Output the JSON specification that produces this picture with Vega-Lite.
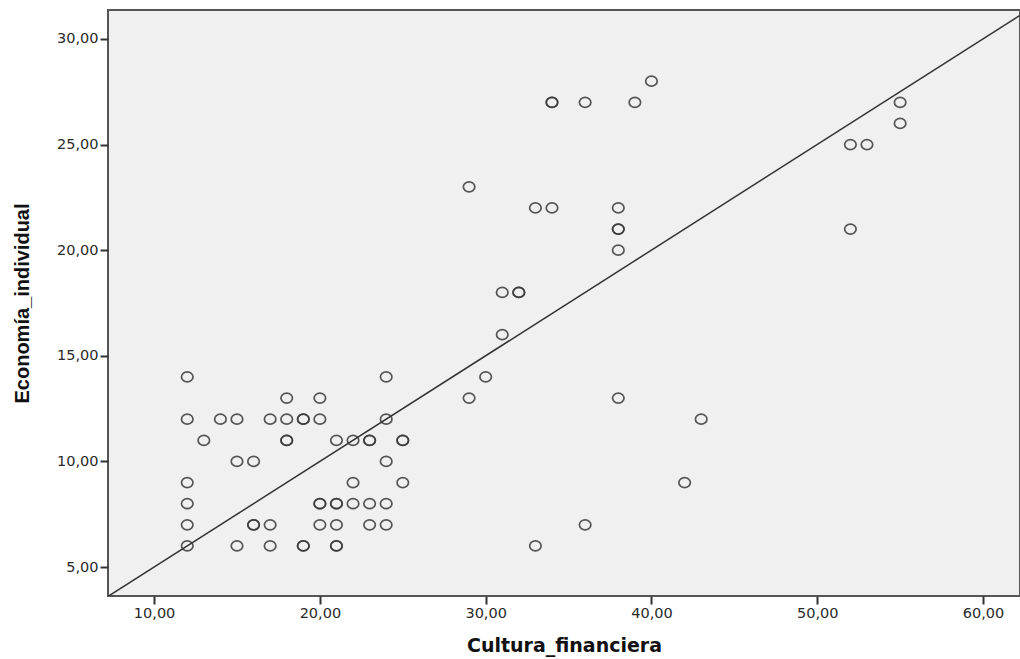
{
  "$schema": "https://vega.github.io/schema/vega-lite/v6.json",
  "width": 912,
  "height": 586,
  "autosize": {"type": "none"},
  "padding": {"left": 108, "top": 10, "right": 0, "bottom": 63},
  "background": "white",
  "config": {
    "view": {"fill": "#f0f0f0", "stroke": "#555555", "strokeWidth": 2},
    "axis": {"grid": false, "domain": false, "labelFont": "DejaVu Sans", "labelFontSize": 14.5, "labelColor": "#2a2a2a", "tickColor": "#333333", "tickWidth": 2, "tickSize": 8, "titleFontWeight": "bold", "titleColor": "#111111"}
  },
  "datasets": {
    "pts": [
      {"x": 12, "y": 14}, {"x": 12, "y": 12}, {"x": 12, "y": 9}, {"x": 12, "y": 8}, {"x": 12, "y": 7}, {"x": 12, "y": 6},
      {"x": 13, "y": 11}, {"x": 14, "y": 12},
      {"x": 15, "y": 12}, {"x": 15, "y": 10}, {"x": 15, "y": 6},
      {"x": 16, "y": 10}, {"x": 16, "y": 7}, {"x": 16, "y": 7},
      {"x": 17, "y": 12}, {"x": 17, "y": 7}, {"x": 17, "y": 6},
      {"x": 18, "y": 13}, {"x": 18, "y": 12}, {"x": 18, "y": 11}, {"x": 18, "y": 11},
      {"x": 19, "y": 12}, {"x": 19, "y": 12}, {"x": 19, "y": 6}, {"x": 19, "y": 6},
      {"x": 20, "y": 13}, {"x": 20, "y": 12}, {"x": 20, "y": 8}, {"x": 20, "y": 8}, {"x": 20, "y": 7},
      {"x": 21, "y": 11}, {"x": 21, "y": 8}, {"x": 21, "y": 8}, {"x": 21, "y": 7}, {"x": 21, "y": 6}, {"x": 21, "y": 6},
      {"x": 22, "y": 11}, {"x": 22, "y": 9}, {"x": 22, "y": 8},
      {"x": 23, "y": 11}, {"x": 23, "y": 11}, {"x": 23, "y": 8}, {"x": 23, "y": 7},
      {"x": 24, "y": 14}, {"x": 24, "y": 12}, {"x": 24, "y": 10}, {"x": 24, "y": 8}, {"x": 24, "y": 7},
      {"x": 25, "y": 11}, {"x": 25, "y": 11}, {"x": 25, "y": 9},
      {"x": 29, "y": 23}, {"x": 29, "y": 13}, {"x": 30, "y": 14},
      {"x": 31, "y": 18}, {"x": 31, "y": 16}, {"x": 32, "y": 18}, {"x": 32, "y": 18},
      {"x": 33, "y": 22}, {"x": 33, "y": 6},
      {"x": 34, "y": 27}, {"x": 34, "y": 27}, {"x": 34, "y": 22},
      {"x": 36, "y": 27}, {"x": 36, "y": 7},
      {"x": 38, "y": 22}, {"x": 38, "y": 21}, {"x": 38, "y": 21}, {"x": 38, "y": 20}, {"x": 38, "y": 13},
      {"x": 39, "y": 27}, {"x": 40, "y": 28}, {"x": 42, "y": 9}, {"x": 43, "y": 12},
      {"x": 52, "y": 25}, {"x": 52, "y": 21}, {"x": 53, "y": 25}, {"x": 55, "y": 27}, {"x": 55, "y": 26}
    ],
    "fit": [
      {"x": 7.22, "y": 3.61},
      {"x": 62.23, "y": 31.12}
    ]
  },
  "layer": [
    {
      "data": {"name": "fit"},
      "mark": {"type": "line", "color": "#333333", "strokeWidth": 1.5, "clip": true},
      "encoding": {
        "x": {"field": "x", "type": "quantitative"},
        "y": {"field": "y", "type": "quantitative"}
      }
    },
    {
      "data": {"name": "pts"},
      "mark": {"type": "point", "shape": "M -1.15,0 A 1.15,1 0 1,0 1.15,0 A 1.15,1 0 1,0 -1.15,0 Z", "filled": false, "stroke": "#3a3a3a", "strokeWidth": 1.7, "size": 100, "opacity": 0.85},
      "encoding": {
        "x": {"field": "x", "type": "quantitative", "title": "Cultura_financiera",
          "scale": {"domain": [7.22, 62.23], "nice": false, "zero": false},
          "axis": {"values": [10, 20, 30, 40, 50, 60], "labelExpr": "replace(format(datum.value, '.2f'), '.', ',')", "titleFont": "DejaVu Sans", "titleFontSize": 19, "titlePadding": 17}},
        "y": {"field": "y", "type": "quantitative", "title": "Economía_individual",
          "scale": {"domain": [3.63, 31.37], "nice": false, "zero": false},
          "axis": {"values": [5, 10, 15, 20, 25, 30], "labelExpr": "replace(format(datum.value, '.2f'), '.', ',')", "titleFont": "Liberation Sans", "titleFontSize": 20, "titlePadding": 24}}
      }
    }
  ]
}
